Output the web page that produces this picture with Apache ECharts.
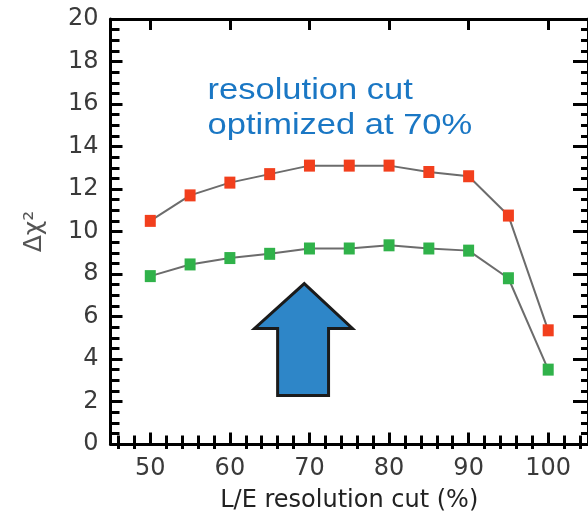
<!DOCTYPE html>
<html>
<head>
<meta charset="utf-8">
<script src="https://cdn.jsdelivr.net/npm/echarts@6/dist/echarts.min.js"></script>
<style>
  html, body { margin: 0; padding: 0; background: #fff; }
  #chart { width: 588px; height: 518px; }
</style>
</head>
<body>
<div id="chart"></div>
<script>
// L/E resolution cut scan: Δχ² versus the cut value (%)
const cuts = [50, 55, 60, 65, 70, 75, 80, 85, 90, 95, 100];
const upperDeltaChi2 = [10.5, 11.7, 12.3, 12.7, 13.1, 13.1, 13.1, 12.8, 12.6, 10.75, 5.35];
const lowerDeltaChi2 = [7.9, 8.45, 8.75, 8.95, 9.2, 9.2, 9.35, 9.2, 9.1, 7.8, 3.5];

// axis ticks
const xMajorTicks = [50, 60, 70, 80, 90, 100];
const xMinorTicks = [];
for (let v = 46; v <= 104; v += 2) { if (v % 10 !== 0) xMinorTicks.push(v); }

// annotation: note text and the upward arrow, both in data units
const noteLines = ['resolution cut', 'optimized at 70%'];
const noteAnchor = [57.2, 17.45];
const arrowOutline = [
  [69.35, 7.55], [75.4, 5.44], [72.4, 5.44], [72.4, 2.28],
  [66.0, 2.28], [66.0, 5.44], [63.1, 5.44]
];

const FONT = 'DejaVu Sans';
const NOTE_FONT = 'Liberation Sans';
const INK = '#000';

const chart = echarts.init(document.getElementById('chart'), null, { renderer: 'canvas' });

const hiddenAxisBits = {
  axisLine: { show: false },
  axisLabel: { show: false },
  splitLine: { show: false }
};

chart.setOption({
  animation: false,
  backgroundColor: '#fff',
  grid: { left: 110.5, right: -3, top: 19, bottom: 74 },
  xAxis: [
    {
      type: 'value', min: 45, max: 105, position: 'bottom',
      name: 'L/E resolution cut (%)', nameLocation: 'middle', nameGap: 45,
      nameTextStyle: { fontFamily: FONT, fontSize: 24, color: '#222' },
      axisLine: { show: true, onZero: false, lineStyle: { color: INK, width: 3 } },
      axisTick: { show: true, inside: true, length: 11.5, customValues: xMajorTicks,
                  lineStyle: { color: INK, width: 3 } },
      axisLabel: { show: true, customValues: xMajorTicks, margin: 13,
                   fontFamily: FONT, fontSize: 24, color: '#3a3a3a' },
      splitLine: { show: false }
    },
    Object.assign({
      type: 'value', min: 45, max: 105, position: 'bottom',
      axisTick: { show: true, inside: true, length: 8.5, customValues: xMinorTicks,
                  lineStyle: { color: INK, width: 3 } }
    }, hiddenAxisBits),
    {
      type: 'value', min: 45, max: 105, position: 'top',
      axisLine: { show: true, onZero: false, lineStyle: { color: INK, width: 3 } },
      axisTick: { show: true, inside: true, length: 11, customValues: xMajorTicks,
                  lineStyle: { color: INK, width: 3 } },
      axisLabel: { show: false },
      splitLine: { show: false }
    },
    Object.assign({
      type: 'value', min: 45, max: 105, position: 'top',
      axisTick: { show: true, inside: true, length: 5, customValues: xMinorTicks,
                  lineStyle: { color: INK, width: 3 } }
    }, hiddenAxisBits)
  ],
  yAxis: [
    {
      type: 'value', min: 0, max: 20, interval: 2, position: 'left',
      name: 'Δχ²', nameLocation: 'middle', nameGap: 64, nameRotate: 90,
      nameTextStyle: { fontFamily: FONT, fontSize: 25, color: '#555' },
      axisLine: { show: true, onZero: false, lineStyle: { color: INK, width: 3 } },
      axisTick: { show: true, inside: true, length: 12, lineStyle: { color: INK, width: 3 } },
      minorTick: { show: true, splitNumber: 4, length: 9, lineStyle: { color: INK, width: 3 } },
      axisLabel: { margin: 12, fontFamily: FONT, fontSize: 24, color: '#3a3a3a' },
      splitLine: { show: false }
    },
    {
      type: 'value', min: 0, max: 20, interval: 2, position: 'right',
      axisLine: { show: true, onZero: false, lineStyle: { color: INK, width: 3 } },
      axisTick: { show: true, inside: true, length: 15, lineStyle: { color: INK, width: 3 } },
      minorTick: { show: true, splitNumber: 4, length: 7, lineStyle: { color: INK, width: 3 } },
      axisLabel: { show: false },
      splitLine: { show: false }
    }
  ],
  series: [
    {
      name: 'upper', type: 'line', xAxisIndex: 0, yAxisIndex: 0,
      data: cuts.map((c, i) => [c, upperDeltaChi2[i]]),
      symbol: 'rect', symbolSize: [11, 12],
      itemStyle: { color: '#f23f1d' },
      lineStyle: { color: '#6c6c6c', width: 2 },
      z: 3
    },
    {
      name: 'lower', type: 'line', xAxisIndex: 0, yAxisIndex: 0,
      data: cuts.map((c, i) => [c, lowerDeltaChi2[i]]),
      symbol: 'rect', symbolSize: [11, 12],
      itemStyle: { color: '#30b24a' },
      lineStyle: { color: '#6c6c6c', width: 2 },
      z: 3
    }
  ]
});

// place the note and the arrow through the grid's coordinate system
const toPx = (p) => chart.convertToPixel({ xAxisIndex: 0, yAxisIndex: 0 }, p);
const notePx = toPx(noteAnchor);
chart.setOption({
  graphic: [
    {
      type: 'polygon',
      shape: { points: arrowOutline.map(toPx) },
      style: { fill: '#2e86c8', stroke: '#1b1b1b', lineWidth: 3, lineJoin: 'miter' },
      z: 5
    },
    {
      type: 'text',
      x: notePx[0], y: notePx[1],
      scaleX: 1.15,
      style: {
        text: noteLines.join('\n'),
        fontFamily: NOTE_FONT, fontSize: 30, lineHeight: 35,
        fill: '#1a77c4', verticalAlign: 'top', align: 'left'
      },
      z: 5
    }
  ]
});
</script>
</body>
</html>
